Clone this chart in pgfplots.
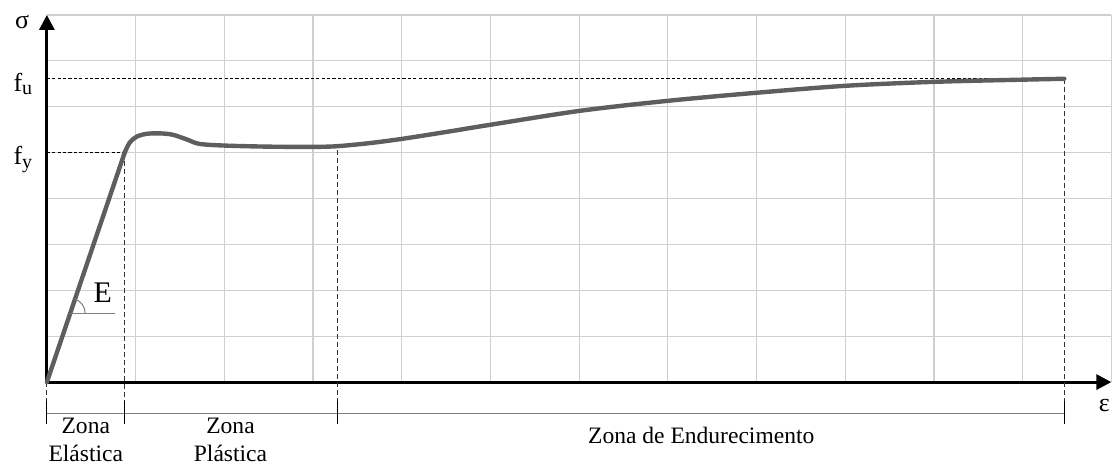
\documentclass[border=0pt]{standalone}
\usepackage{fontspec}
\setmainfont{Liberation Serif}
\usepackage{pgfplots}
\pgfplotsset{compat=1.18}
\usetikzlibrary{arrows.meta}
\definecolor{curve}{HTML}{5E5E5E}
\definecolor{gridc}{HTML}{CFCFCF}
\begin{document}
\begin{tikzpicture}
\begin{axis}[
  width=533.5pt, height=184pt, scale only axis,
  xmin=0, xmax=12, ymin=0, ymax=8,
  axis lines=left,
  axis line style={line width=1.5pt, -{Triangle[length=7.5pt,width=7.5pt]}},
  xtick={1,...,12}, ytick={1,...,8},
  xticklabels={}, yticklabels={},
  major tick length=0pt,
  grid=major,
  major grid style={gridc, line width=0.6pt},
  clip=false,
]
% invisible frame giving the picture its size
\path (axis cs:-0.5286,8.326) rectangle (axis cs:12.044,-1.826);
% dashed guides
\draw[black, line width=0.5pt, dash pattern=on 1.6pt off 1.1pt] (axis cs:0,5) -- (axis cs:0.877,5);
\draw[black, line width=0.5pt, dash pattern=on 1.6pt off 1.1pt] (axis cs:0,6.609) -- (axis cs:11.47,6.609);
\draw[black!80, line width=0.5pt, dash pattern=on 2.5pt off 1.5pt] (axis cs:0.877,5) -- (axis cs:0.877,-0.413);
\draw[black!80, line width=0.5pt, dash pattern=on 2.5pt off 1.5pt] (axis cs:3.273,5.05) -- (axis cs:3.273,-0.413);
\draw[black!80, line width=0.5pt, dash pattern=on 2.5pt off 1.5pt] (axis cs:11.47,6.609) -- (axis cs:11.47,-0.413);
\draw[black!80, line width=0.5pt, dash pattern=on 2.5pt off 1.5pt] (axis cs:0,0) -- (axis cs:0,-0.413);
% dimension line
\draw[gray, line width=0.5pt] (axis cs:0,-0.674) -- (axis cs:11.47,-0.674);
\draw[black, line width=0.5pt] (axis cs:0,-0.413) -- (axis cs:0,-0.913);
\draw[black, line width=0.5pt] (axis cs:0.877,-0.413) -- (axis cs:0.877,-0.913);
\draw[black, line width=0.5pt] (axis cs:3.273,-0.413) -- (axis cs:3.273,-0.913);
\draw[black, line width=0.5pt] (axis cs:11.47,-0.413) -- (axis cs:11.47,-0.913);
% elastic part
\addplot[curve, line width=2.2pt, line cap=round] coordinates {(0,0) (0.877,5.0)};
% plastic + hardening
\addplot[curve, line width=2.2pt, smooth, tension=0.5, line cap=round] coordinates {
(0.877,5.0) (0.933,5.217) (1.012,5.348) (1.125,5.410) (1.271,5.420)
(1.417,5.391) (1.574,5.290) (1.721,5.190) (2.024,5.152) (2.508,5.130)
(2.991,5.125) (3.273,5.140) (3.65,5.210) (4.004,5.300) (4.5,5.450) (5.005,5.609)
(6.017,5.913) (7.006,6.130) (7.996,6.304) (9.008,6.457) (10.009,6.543)
(11.0,6.590) (11.47,6.609)};
% angle mark
\draw[gray, line width=0.5pt] (axis cs:0.263,1.5) -- (axis cs:0.765,1.5);
\draw[gray, line width=0.5pt] (axis cs:0.263,1.5) ++(7.5pt,0) arc[start angle=0,end angle=71.3,radius=7.5pt];
\node[font=\fontsize{15}{18}\selectfont] at (axis cs:0.63,1.957) {E};
% axis symbols
\node[font=\fontsize{13}{15}\selectfont] at (axis cs:-0.28,7.85) {σ};
\node[font=\fontsize{13}{15}\selectfont, anchor=east, inner sep=0pt] at (axis cs:-0.15,6.5) {f\textsubscript{\fontsize{10}{12}\selectfont u}};
\node[font=\fontsize{13}{15}\selectfont, anchor=east, inner sep=0pt] at (axis cs:-0.15,4.85) {f\textsubscript{\fontsize{10}{12}\selectfont y}};
\node[font=\fontsize{13}{15}\selectfont] at (axis cs:11.92,-0.52) {ε};
% zone labels
\node[font=\fontsize{11.8}{14}\selectfont, anchor=base] at (axis cs:0.4385,-1.13) {Zona};
\node[font=\fontsize{11.8}{14}\selectfont, anchor=base] at (axis cs:0.4385,-1.739) {Elástica};
\node[font=\fontsize{11.8}{14}\selectfont, anchor=base] at (axis cs:2.07,-1.13) {Zona};
\node[font=\fontsize{11.8}{14}\selectfont, anchor=base] at (axis cs:2.07,-1.739) {Plástica};
\node[font=\fontsize{11.8}{14}\selectfont, anchor=base] at (axis cs:7.377,-1.348) {Zona de Endurecimento};
\end{axis}
\end{tikzpicture}
\end{document}
